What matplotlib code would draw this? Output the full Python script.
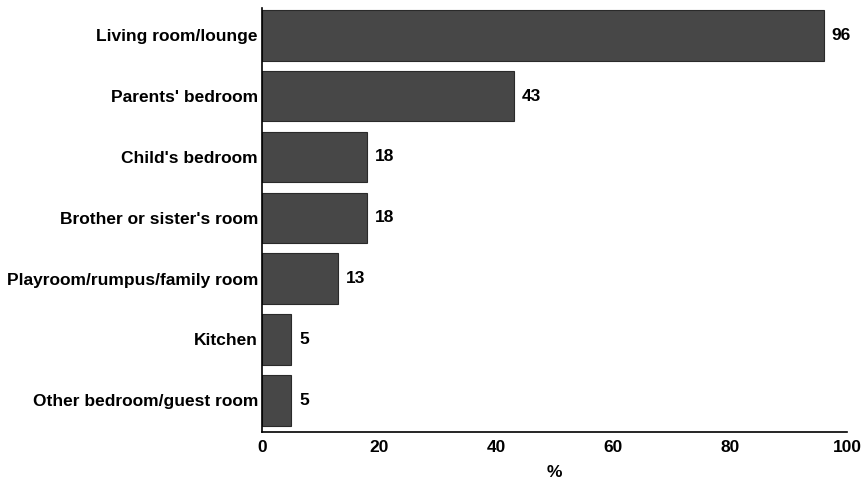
import matplotlib.pyplot as plt

plt.rcParams['font.family'] = ['Liberation Sans', 'DejaVu Sans']
plt.rcParams['font.size'] = 12.5
plt.rcParams['font.weight'] = 'bold'
plt.rcParams['axes.labelweight'] = 'bold'

rooms = ['Living room/lounge',
         "Parents' bedroom",
         "Child's bedroom",
         "Brother or sister's room",
         'Playroom/rumpus/family room',
         'Kitchen',
         'Other bedroom/guest room']
percent = [96, 43, 18, 18, 13, 5, 5]

fig = plt.figure(figsize=(8.68, 4.92), dpi=100)
ax = fig.add_axes([0.302, 0.122, 0.674, 0.862])

ypos = list(range(len(rooms)))
ax.barh(ypos, percent, height=0.83, color='#474747', edgecolor='#2a2a2a',
        linewidth=0.8)

for y, v in zip(ypos, percent):
    ax.text(v + 1.3, y, str(v), va='center', ha='left')

ax.set_yticks(ypos)
ax.set_yticklabels(rooms)
ax.set_ylim(6.52, -0.45)
ax.set_xlim(0, 100)
ax.set_xticks([0, 20, 40, 60, 80, 100])
ax.set_xlabel('%', labelpad=7)

ax.tick_params(length=0, pad=3)
ax.tick_params(axis='x', pad=6)
for side in ['top', 'right']:
    ax.spines[side].set_visible(False)
for side in ['left', 'bottom']:
    ax.spines[side].set_linewidth(1.2)

fig.savefig('out.png', dpi=100)
